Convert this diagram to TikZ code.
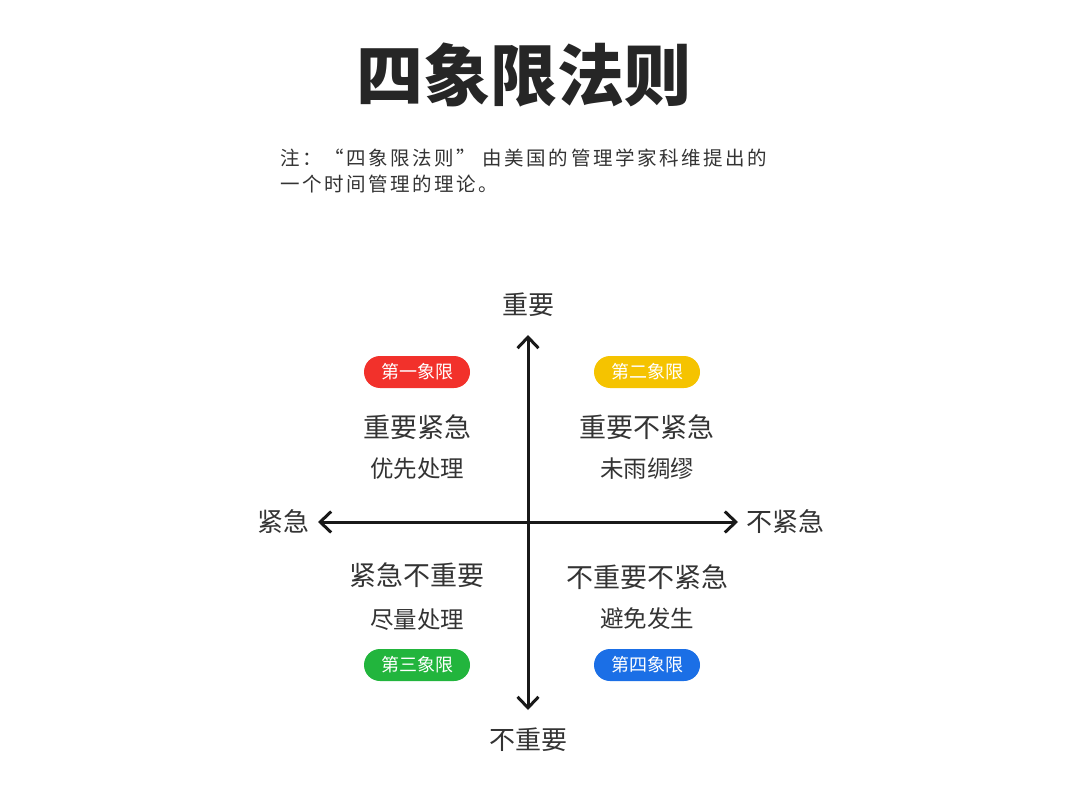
\documentclass[tikz,border=0pt]{standalone}
\usepackage{xcolor}
\usepackage{fontspec}
\setmainfont{Noto Sans CJK SC}
\newfontfamily\notefont[LetterSpace=13]{Noto Sans CJK SC}
\usepackage{tikz}
\usetikzlibrary{arrows.meta,positioning}

\definecolor{inkgray}{HTML}{333333}
\definecolor{qred}{HTML}{F2312B}
\definecolor{qyellow}{HTML}{F5C300}
\definecolor{qgreen}{HTML}{22B53D}
\definecolor{qblue}{HTML}{1B6FE6}

% text box of a CJK line of size #1 (pt), centred on the ink
\newcommand{\cjksize}[1]{\fontsize{#1}{#1}\selectfont}
\tikzset{
  cjk/.style={inner sep=0pt, text=inkgray,
              text height={0.83*#1 pt}, text depth={0.07*#1 pt}, font=\cjksize{#1}},
  badge/.style={cjk=18, text=white, minimum width=106pt, minimum height=32pt,
                rounded corners=16pt},
  axislabel/.style={cjk=26},
  headtext/.style={cjk=27},
  subtext/.style={cjk=23.5},
  axis/.style={line width=3pt, draw=black!90,
               {Straight Barb[length=11pt,width=21pt]}-{Straight Barb[length=11pt,width=21pt]}}
}

\begin{document}
\begin{tikzpicture}[x=1pt,y=-1pt]
% Fix the page to the reference size
\useasboundingbox (0,0) rectangle (1080,792);

% Title and note
\node[cjk=67, font=\cjksize{67}\bfseries, text=black!85] (title) at (524,75) {四象限法则};
\node[anchor=base west, inner sep=0pt, text=inkgray, font=\notefont\cjksize{19.5}] (noteone) at (280,165)
  {注：“四象限法则” 由美国的管理学家科维提出的};
\node[anchor=base west, inner sep=0pt, text=inkgray, font=\notefont\cjksize{19.5}] (notetwo) at (280,191)
  {一个时间管理的理论。};

% Axis labels
\node[axislabel] (important)    at (528,305) {重要};
\node[axislabel] (notimportant) at (528,740) {不重要};
\node[axislabel] (urgent)       at (283,522) {紧急};
\node[axislabel] (noturgent)    at (785,522) {不紧急};

% Arrow ends
\coordinate (N) at (528,335);
\coordinate (S) at (528,710);
\coordinate (W) at (318,522);
\coordinate (E) at (738,522);

% Draw the two axes
\draw[axis] (S) -- (N);
\draw[axis] (W) -- (E);

% Quadrant badges
\foreach \name/\pos/\col/\txt in {qone/{(417,372)}/qred/第一象限,
                                 qtwo/{(647,372)}/qyellow/第二象限,
                                 qthree/{(417,665)}/qgreen/第三象限,
                                 qfour/{(647,665)}/qblue/第四象限} {
    \node[badge, fill=\col] (\name) at \pos {\txt};
}

% Quadrant texts
\node[headtext] (headone)   at (417,427) {重要紧急};
\node[subtext]  (subone)    at (417,469) {优先处理};
\node[headtext] (headtwo)   at (647,427) {重要不紧急};
\node[subtext]  (subtwo)    at (647,469) {未雨绸缪};
\node[headtext] (headthree) at (417,575) {紧急不重要};
\node[subtext]  (subthree)  at (417,620) {尽量处理};
\node[headtext] (headfour)  at (647,577) {不重要不紧急};
\node[subtext]  (subfour)   at (647,619) {避免发生};

\end{tikzpicture}
\end{document}
